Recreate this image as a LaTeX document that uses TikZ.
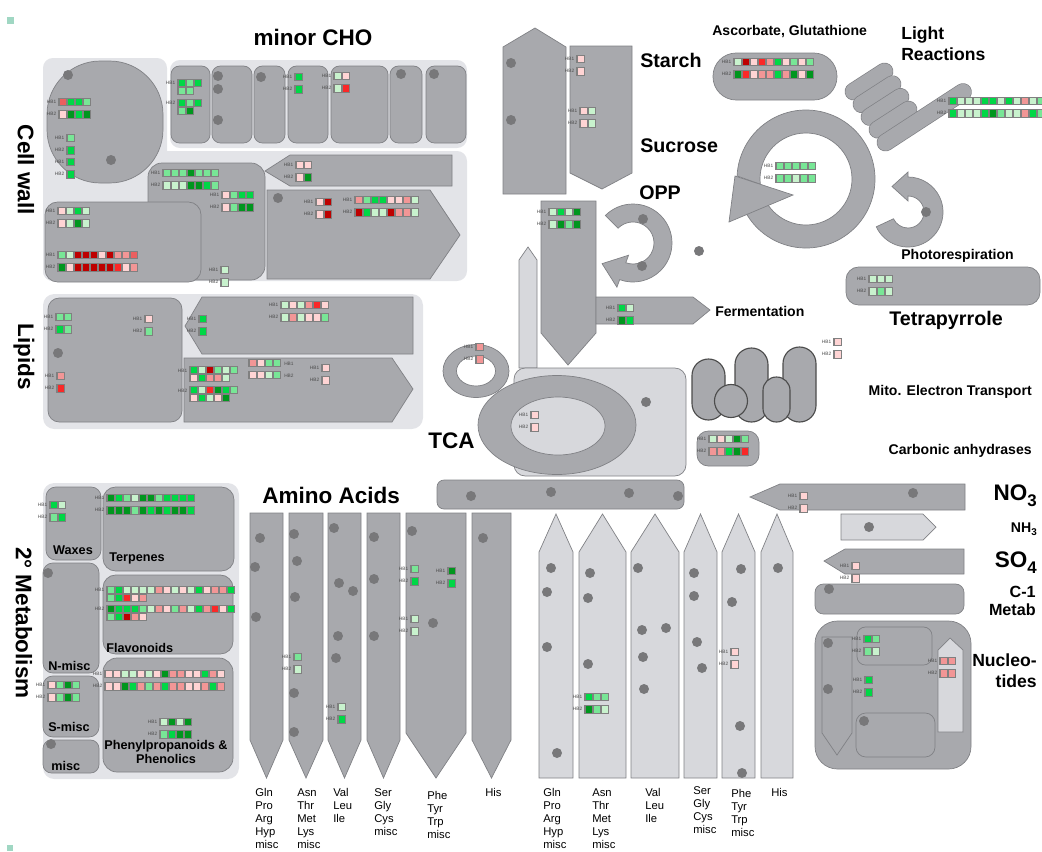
\documentclass[tikz,border=0pt]{standalone}
\usepackage{fontspec}
\setmainfont{Liberation Sans}
\usetikzlibrary{positioning}

\definecolor{panelgray}{RGB}{227,228,232}
\definecolor{boxgray}{RGB}{168,169,173}
\definecolor{lightfill}{RGB}{215,216,220}
\definecolor{edgegray}{RGB}{128,129,133}
\definecolor{spotgray}{RGB}{120,120,122}
\definecolor{framegray}{RGB}{128,128,128}
\definecolor{tealmark}{RGB}{160,215,195}
\definecolor{dg}{RGB}{0,150,30}
\definecolor{gn}{RGB}{0,215,70}
\definecolor{lg}{RGB}{120,230,150}
\definecolor{pg}{RGB}{200,242,205}
\definecolor{pp}{RGB}{255,212,212}
\definecolor{pk}{RGB}{242,150,150}
\definecolor{md}{RGB}{235,95,95}
\definecolor{rd}{RGB}{250,40,40}
\definecolor{dr}{RGB}{190,0,0}

\tikzset{
  areapanel/.style={fill=panelgray},
  grayshape/.style={fill=boxgray, draw=edgegray, line width=0.5pt},
  paleshape/.style={fill=lightfill, draw=edgegray, line width=0.5pt},
  mitoshape/.style={fill=boxgray, draw=black!70, line width=0.8pt},
  spotfill/.style={fill=spotgray},
  hblabel/.style={font=\fontsize{3.4}{4}\selectfont, text=black!70, inner sep=0pt},
  bigtitle/.style={font=\fontsize{16}{18}\selectfont\bfseries, inner sep=0pt},
  midtitle/.style={font=\fontsize{14}{16}\selectfont\bfseries, inner sep=0pt},
  medtitle/.style={font=\fontsize{12.5}{15}\selectfont\bfseries, inner sep=0pt},
  smalltitle/.style={font=\fontsize{10}{12}\selectfont\bfseries, inner sep=0pt},
  boxtitle/.style={font=\fontsize{9}{11}\selectfont\bfseries, inner sep=0pt},
  aalabel/.style={font=\fontsize{8}{9.3}\selectfont, align=left, anchor=north west, inner sep=0pt},
}

% grey dot
\newcommand{\spot}[2]{\fill[spotfill] (#1,#2) circle[radius=5];}
% one row of heat cells: x, y (centre), colours
\newcommand{\hbrow}[3]{%
  \foreach \hc [count=\hi from 0] in {#3} {%
    \fill[framegray] ({#1+8*\hi},{#2-4.4}) rectangle ({#1+8*\hi+9.4},{#2+4.4});
    \fill[\hc] ({#1+8*\hi+1.6},{#2-3.2}) rectangle ({#1+8*\hi+7.8},{#2+3.2});
  }}
% HB1 / HB2 pair with labels
\newcommand{\hbpair}[5]{%
  \hbrow{#2}{#3}{#4}
  \hbrow{#2}{#3+12.3}{#5}
  \node[hblabel, anchor=east] (#1-1) at ({#2-1.5},{#3}) {HB1};
  \node[hblabel, anchor=east] (#1-2) at ({#2-1.5},{#3+12.3}) {HB2};
}
% curved arrow: cx, cy, inner r, outer r, start, end, head overhang, head length
\newcommand{\turnarrow}[8]{%
  \pgfmathsetmacro\tsg{(#6>#5) ? 1 : -1}%
  \pgfmathsetmacro\tmr{(#3+#4)/2}%
  \pgfmathsetmacro\tpx{#1+\tmr*cos(#6)-(\tsg)*#8*sin(#6)}%
  \pgfmathsetmacro\tpy{#2+\tmr*sin(#6)+(\tsg)*#8*cos(#6)}%
  \pgfmathsetmacro\obx{#1+(#4+#7)*cos(#6)}%
  \pgfmathsetmacro\oby{#2+(#4+#7)*sin(#6)}%
  \pgfmathsetmacro\ibx{#1+(#3-#7)*cos(#6)}%
  \pgfmathsetmacro\iby{#2+(#3-#7)*sin(#6)}%
  \pgfmathsetmacro\iax{#1+#3*cos(#6)}%
  \pgfmathsetmacro\iay{#2+#3*sin(#6)}%
  \filldraw[grayshape] (#1,#2) ++(#5:#4) arc[start angle=#5, end angle=#6, radius=#4]
    -- (\obx,\oby) -- (\tpx,\tpy) -- (\ibx,\iby) -- (\iax,\iay)
    arc[start angle=#6, end angle=#5, radius=#3] -- cycle;
}
\newcommand{\lowsub}[2]{{\fontsize{#1}{#1}\selectfont\raisebox{-0.35em}{#2}}}

\begin{document}
\begin{tikzpicture}[x=0.025cm, y=-0.025cm]
\useasboundingbox (0,0) rectangle (1042,851);
\clip (0,0) rectangle (1042,851);

\fill[tealmark] (7,17) rectangle (14,24);
\fill[tealmark] (7,845) rectangle (13,851);

% -------- Cell wall / minor CHO --------
\fill[areapanel, rounded corners=7pt] (43,58) rectangle (167,281);
\fill[areapanel, rounded corners=7pt] (43,151) rectangle (467,281);
\fill[areapanel, rounded corners=7pt] (170,60) rectangle (467,148);
\foreach \xa/\xb in {171/210, 212/252, 254/285, 288/328, 331/388, 390/422, 426/466}
  {\filldraw[grayshape, rounded corners=6pt] (\xa,66) rectangle (\xb,143);}
\filldraw[grayshape, rounded corners=10pt] (148,163) rectangle (265,280);
\filldraw[grayshape, rounded corners=38pt] (47,61) rectangle (163,183);
\filldraw[grayshape, rounded corners=9pt] (45,202) rectangle (201,282);
\filldraw[grayshape] (265,171) -- (290,155) -- (452,155) -- (452,186) -- (290,186) -- cycle;
\filldraw[grayshape] (267,190) -- (430,190) -- (460,235) -- (430,279) -- (267,279) -- cycle;
\foreach \px/\py in {68/75, 111/160, 218/76, 218/89, 218/120, 261/77, 401/74, 434/74, 278/198}
  {\spot{\px}{\py}}

% -------- Lipids --------
\fill[areapanel, rounded corners=8pt] (43,294) rectangle (423,429);
\filldraw[grayshape, rounded corners=8pt] (48,298) rectangle (182,422);
\filldraw[grayshape] (185,326) -- (202,297) -- (413,297) -- (413,354) -- (202,354) -- cycle;
\filldraw[grayshape] (184,358) -- (392,358) -- (413,389) -- (392,422) -- (184,422) -- cycle;
\spot{58}{353}

% -------- 2nd metabolism --------
\fill[areapanel, rounded corners=8pt] (43,483) rectangle (239,779);
\filldraw[grayshape, rounded corners=7pt] (46,487) rectangle (101,560);
\filldraw[grayshape, rounded corners=9pt] (103,487) rectangle (234,571);
\filldraw[grayshape, rounded corners=7pt] (43,563) rectangle (99,673);
\filldraw[grayshape, rounded corners=7pt] (43,676) rectangle (99,737);
\filldraw[grayshape, rounded corners=6pt] (43,740) rectangle (99,773);
\filldraw[grayshape, rounded corners=9pt] (103,575) rectangle (233,654);
\filldraw[grayshape, rounded corners=10pt] (103,658) rectangle (233,772);
\spot{48}{573} \spot{51}{744}

% -------- Starch, Sucrose, Glycolysis, OPP --------
\filldraw[grayshape] (503,47) -- (535,28) -- (566,47) -- (566,194) -- (503,194) -- cycle;
\filldraw[grayshape] (570,46) -- (632,46) -- (632,173) -- (602,189) -- (570,173) -- cycle;
\spot{511}{63} \spot{511}{120}
\filldraw[paleshape] (519,368) -- (519,260) -- (528,247) -- (537,260) -- (537,368) -- cycle;
\filldraw[grayshape] (541,201) -- (596,201) -- (596,333) -- (568,365) -- (541,333) -- cycle;
\filldraw[grayshape] (596,297) -- (693,297) -- (710,310) -- (693,324) -- (596,324) -- cycle;
\turnarrow{633}{243}{21}{39}{-135}{110}{8}{22}
\spot{643}{219} \spot{642}{266} \spot{699}{251}

% -------- TCA --------
\filldraw[grayshape, even odd rule] (476,371) ellipse[x radius=33, y radius=26.5]
  (476,371) ellipse[x radius=19.5, y radius=15];
\filldraw[paleshape, rounded corners=8pt] (514,368) rectangle (686,476);
\filldraw[grayshape] (557,425) ellipse[x radius=79, y radius=49.5];
\filldraw[paleshape] (558,426) ellipse[x radius=47, y radius=29];
\spot{646}{402}
\filldraw[grayshape, rounded corners=5pt] (437,480) rectangle (684,509);
\foreach \px/\py in {471/496, 551/492, 629/493, 678/496}
  {\spot{\px}{\py}}

% -------- Mito, carbonic anhydrases --------
\filldraw[mitoshape, rounded corners=11.7pt] (692,359) rectangle (725,420);
\filldraw[mitoshape, rounded corners=11.7pt] (735,348) rectangle (768,422);
\filldraw[mitoshape, rounded corners=11.7pt] (783,347) rectangle (816,422);
\filldraw[mitoshape, rounded corners=9.5pt] (763,377) rectangle (790,422);
\filldraw[mitoshape] (731,401) circle[radius=16.5];
\filldraw[grayshape, rounded corners=8pt] (697,431) rectangle (759,466);

% -------- Ascorbate, light reactions, Calvin, photorespiration --------
\filldraw[grayshape, rounded corners=16.5pt] (713,53) rectangle (837,100);
\foreach \k in {0,...,3} {
  \draw[edgegray, line width=12.6pt, line cap=round] ({853.5+8*\k},{91.5+12.7*\k}) -- ({884.5+8*\k},{71.5+12.7*\k});
  \draw[boxgray, line width=11.6pt, line cap=round] ({853.5+8*\k},{91.5+12.7*\k}) -- ({884.5+8*\k},{71.5+12.7*\k});
}
\draw[edgegray, line width=12.6pt, line cap=round] (885.5,142.5) -- (963,92);
\draw[boxgray, line width=11.6pt, line cap=round] (885.5,142.5) -- (963,92);
\filldraw[grayshape] (806,179) ++(150:69) arc[start angle=150, end angle=-177.5, radius=69]
  -- (760.3,184.2) arc[start angle=-186.5, end angle=150, radius=46] -- cycle;
\filldraw[grayshape] (735,176) -- (793,195) -- (729,222) -- cycle;
\turnarrow{908}{212}{16}{35}{155}{-90}{5}{16}
\spot{926}{212}
\filldraw[grayshape, rounded corners=9pt] (846,267) rectangle (1040,305);

% -------- N, S, C-1, nucleotides --------
\filldraw[grayshape] (750,497) -- (780,484) -- (965,484) -- (965,510) -- (780,510) -- cycle;
\filldraw[paleshape] (841,514) -- (923,514) -- (936,527) -- (923,540) -- (841,540) -- cycle;
\filldraw[grayshape] (824,561) -- (845,549) -- (964,549) -- (964,574) -- (845,574) -- cycle;
\filldraw[grayshape, rounded corners=6pt] (815,584) rectangle (964,614);
\filldraw[grayshape, rounded corners=16pt] (815,621) rectangle (971,769);
\filldraw[grayshape] (822,637) -- (852,637) -- (852,733) -- (837,755) -- (822,733) -- cycle;
\draw[edgegray, line width=0.5pt, rounded corners=6pt] (857,627) rectangle (932,665);
\draw[edgegray, line width=0.5pt, rounded corners=7pt] (856,713) rectangle (935,757);
\filldraw[paleshape] (938,650) -- (950,638) -- (963,650) -- (963,732) -- (938,732) -- cycle;
\foreach \px/\py in {913/493, 869/527, 829/589, 828/643, 828/689, 864/721}
  {\spot{\px}{\py}}

% -------- Amino acids --------
\foreach \xa/\xb/\ys in {250/283/740, 289/323/740, 328/361/740, 367/400/740, 406/466/733, 472/511/740}
  {\filldraw[grayshape] (\xa,513) -- (\xb,513) -- (\xb,\ys) -- ({(\xa+\xb)/2},778) -- (\xa,\ys) -- cycle;}
\foreach \xa/\xb in {539/573, 579/626, 631/679, 684/717, 722/755, 761/793}
  {\filldraw[paleshape] (\xa,778) -- (\xa,552) -- ({(\xa+\xb)/2},514) -- (\xb,552) -- (\xb,778) -- cycle;}
\foreach \px/\py in {260/538, 255/567, 256/617, 294/534, 297/561, 295/597, 294/693, 294/732,
  334/528, 339/583, 353/591, 338/636, 336/658, 374/537, 374/579, 374/636, 412/531, 433/623, 483/538,
  551/568, 547/592, 547/647, 557/753, 590/573, 588/598, 588/664, 638/568, 642/630, 666/628,
  643/657, 644/689, 694/573, 694/596, 697/642, 702/668, 741/569, 732/602, 740/726, 742/773, 778/568}
  {\spot{\px}{\py}}

% -------- heat cells --------
\hbpair{cwa}{58}{102}{md,gn,gn,lg}{pp,dg,gn,dg}
\hbpair{cwb}{66}{138}{lg}{gn}
\hbpair{cwc}{66}{162}{gn}{gn}
\hbrow{177}{83}{gn,lg,gn} \hbrow{177}{91}{lg,lg}
\hbrow{177}{103}{gn,lg,gn} \hbrow{177}{111}{lg,dg}
\node[hblabel, anchor=east] (chb1) at (175.5,83) {HB1};
\node[hblabel, anchor=east] (chb2) at (175.5,103) {HB2};
\hbpair{chb}{294}{77}{gn}{gn}
\hbpair{chc}{333}{76}{pg,pp}{pg,rd}
\hbpair{cwd}{162}{173}{lg,lg,lg,dg,lg,lg,lg}{pg,pg,pg,dg,dg,gn,lg}
\hbpair{cwe}{221}{195}{pp,lg,gn,gn}{pp,lg,dg,dg}
\hbpair{cwf}{220}{270}{pg}{pg}
\hbpair{cwg}{57}{211}{pp,pg,gn,pg}{pp,pg,dg,pg}
\hbpair{cwh}{57}{255}{lg,pg,dr,dr,dr,pp,dr,pk,pk,md}{dg,pp,dr,dr,dr,dr,dr,rd,pp,pk}
\hbpair{cwi}{295}{165}{pp,pp}{pp,dg}
\hbpair{cwj}{315}{202}{pp,dr}{pp,dr}
\hbpair{cwk}{354}{200}{pk,lg,gn,gn,pp,pp,pk,pg}{dr,gn,pg,pg,dr,pk,pk,pg}

\hbpair{lpa}{55}{317}{lg,lg}{gn,lg}
\hbpair{lpb}{144}{319}{pp}{lg}
\hbpair{lpc}{56}{376}{pk}{rd}
\hbpair{lpd}{198}{319}{gn}{gn}
\hbpair{lpe}{280}{305}{pg,pp,pg,pk,rd,pp}{pg,pk,pg,pp,pp,lg}
\hbrow{189}{370}{gn,pg,dr,lg,pg,lg} \hbrow{189}{378}{pp,gn,pk,pk,pg}
\hbrow{189}{390}{gn,pg,rd,dg,gn,lg} \hbrow{189}{398}{pp,gn,pg,pp,dg}
\node[hblabel, anchor=east] (lpf1) at (187.5,371) {HB1};
\node[hblabel, anchor=east] (lpf2) at (187.5,391) {HB2};
\hbrow{248}{363}{pk,pp,lg,lg} \hbrow{248}{375}{pp,pp,pg,lg}
\node[hblabel, anchor=west] (lph1) at (284,364) {HB1};
\node[hblabel, anchor=west] (lph2) at (284,376) {HB2};
\hbpair{lpg}{321}{368}{pp}{pp}

\hbpair{sma}{49}{505}{gn,pg}{lg,gn}
\hbpair{smb}{106}{498}{dg,gn,lg,pg,dg,dg,lg,gn,gn,gn,gn}{dg,dg,dg,lg,dg,gn,dg,gn,dg,dg,gn}
\hbrow{106}{590}{lg,gn,pg,pg,pg,pg,pk,pp,pg,pp,pg,gn,pp,pk,pk,gn}
\hbrow{106}{598}{lg,gn,rd,pp,pk}
\hbrow{106}{609}{dg,gn,gn,gn,lg,pg,pk,pp,lg,pk,pg,gn,pk,rd,pp,gn}
\hbrow{106}{617}{lg,gn,dr,pk,pp}
\node[hblabel, anchor=east] (smc1) at (104.5,590) {HB1};
\node[hblabel, anchor=east] (smc2) at (104.5,609) {HB2};
\hbpair{smd}{104}{674}{pp,pp,pg,pg,pp,pg,pp,dg,pk,pk,pp,pp,gn,pk,pp}{pp,pp,dg,gn,pk,lg,pk,gn,pk,pk,pp,pp,pk,gn,pk}
\hbpair{sme}{159}{722}{pg,dg,pg,dg}{lg,gn,dg,dg}
\hbpair{smf}{47}{685}{pp,lg,dg,lg}{pp,lg,dg,lg}

\hbpair{aaa}{293}{657}{lg}{pg}
\hbpair{aab}{337}{707}{pg}{gn}
\hbpair{aac}{410}{569}{lg}{gn}
\hbpair{aad}{410}{619}{pg}{pg}
\hbpair{aae}{447}{571}{dg}{gn}
\hbpair{aaf}{584}{697}{gn,lg,lg}{dg,lg,pg}
\hbpair{aag}{730}{652}{pp}{pp}

\hbpair{sta}{576}{59}{pp}{pp}
\hbpair{sua}{579}{111}{pp,pg}{pp,pg}
\hbpair{gly}{548}{212}{pg,gn,pg,dg}{pg,dg,lg,dg}
\hbpair{fer}{617}{308}{gn,pg}{dg,gn}
\hbpair{tcr}{475}{347}{pk}{pk}
\hbpair{tci}{530}{415}{pp}{pp}
\hbpair{mit}{833}{342}{pp}{pp}
\hbpair{car}{708}{439}{pg,pp,pg,dg,lg}{pk,pk,gn,dg,rd}
\hbpair{asc}{733}{62}{pg,dr,pp,rd,pk,gn,pp,lg,pp,lg}{dg,rd,pp,pk,pk,gn,pk,dg,pp,dg}
\hbpair{lig}{948}{101}{gn,pg,pg,pg,gn,gn,pg,gn,pg,pk,pg,lg}{gn,pg,pg,pg,gn,dg,lg,pg,pg,pk,gn,lg}
\hbpair{cal}{775}{166}{lg,lg,lg,lg,lg}{lg,lg,pg,lg,lg}
\hbpair{tet}{868}{279}{pg,pg,pg}{pg,lg,pg}
\hbpair{noa}{799}{496}{pp}{pp}
\hbpair{soa}{851}{566}{pp}{pp}
\hbpair{nua}{863}{639}{gn,lg}{lg,pg}
\hbpair{nub}{864}{680}{gn}{gn}
\hbpair{nuc}{939}{661}{pk,pk}{pk,pk}

% -------- labels --------
\node[bigtitle] (minorcho) at (313,37) {minor CHO};
\node[bigtitle, rotate=-90] (cellwall) at (26,170) {Cell wall};
\node[bigtitle, rotate=-90] (lipids) at (24,357) {Lipids};
\node[bigtitle, rotate=-90] (secmet) at (24,623) {2° Metabolism};
\node[midtitle, anchor=west] (starch) at (640,60) {Starch};
\node[midtitle, anchor=west] (sucrose) at (640,146) {Sucrose};
\node[midtitle, anchor=west] (opp) at (639,193) {OPP};
\node[bigtitle, anchor=west] (tca) at (428,441) {TCA};
\node[bigtitle, anchor=west] (aminoacids) at (262,495) {Amino Acids};
\node[midtitle, anchor=west] (tetrapyrrole) at (889,320) {Tetrapyrrole};
\node[smalltitle, anchor=west] (ascorbate) at (712,31) {Ascorbate, Glutathione};
\node[medtitle, anchor=west, align=left] (lightreac) at (901,44) {Light\\Reactions};
\node[smalltitle, anchor=west] (photoresp) at (901,256) {Photorespiration};
\node[smalltitle, anchor=west] (fermentation) at (715,311) {Fermentation};
\node[smalltitle, anchor=east] (mito) at (1032,392) {Mito. Electron Transport};
\node[smalltitle, anchor=east] (carbonic) at (1032,451) {Carbonic anhydrases};
\node[bigtitle, anchor=east] (no3) at (1037,496) {NO\lowsub{12}{3}};
\node[smalltitle, anchor=east] (nh3) at (1037,529) {NH\lowsub{7}{3}};
\node[bigtitle, anchor=east] (so4) at (1037,563) {SO\lowsub{12}{4}};
\node[medtitle, anchor=east, align=right, font=\fontsize{11.5}{12.5}\selectfont\bfseries] (c1metab) at (1036,601) {C-1\\Metab};
\node[medtitle, anchor=east, align=right] (nucleo) at (1037,671) {Nucleo-\\tides};
\node[boxtitle] (waxes) at (73,550) {Waxes};
\node[boxtitle, anchor=west] (terpenes) at (109,558) {Terpenes};
\node[boxtitle, anchor=west] (nmisc) at (48,666) {N-misc};
\node[boxtitle, anchor=west] (smisc) at (48,727) {S-misc};
\node[boxtitle, anchor=west] (misc) at (51,766) {misc};
\node[boxtitle, anchor=west] (flavonoids) at (106,648) {Flavonoids};
\node[boxtitle, align=center, font=\fontsize{9}{10.5}\selectfont\bfseries] (phenyl) at (166,752) {Phenylpropanoids \&\\Phenolics};

\node[aalabel] (aadark1) at (255,788) {Gln\\Pro\\Arg\\Hyp\\misc};
\node[aalabel] (aadark2) at (297,788) {Asn\\Thr\\Met\\Lys\\misc};
\node[aalabel] (aadark3) at (333,788) {Val\\Leu\\Ile};
\node[aalabel] (aadark4) at (374,788) {Ser\\Gly\\Cys\\misc};
\node[aalabel] (aadark5) at (427,791) {Phe\\Tyr\\Trp\\misc};
\node[aalabel] (aadark6) at (485,788) {His};
\node[aalabel] (aalight1) at (543,788) {Gln\\Pro\\Arg\\Hyp\\misc};
\node[aalabel] (aalight2) at (592,788) {Asn\\Thr\\Met\\Lys\\misc};
\node[aalabel] (aalight3) at (645,788) {Val\\Leu\\Ile};
\node[aalabel] (aalight4) at (693,786) {Ser\\Gly\\Cys\\misc};
\node[aalabel] (aalight5) at (731,789) {Phe\\Tyr\\Trp\\misc};
\node[aalabel] (aalight6) at (771,788) {His};

\end{tikzpicture}
\end{document}
